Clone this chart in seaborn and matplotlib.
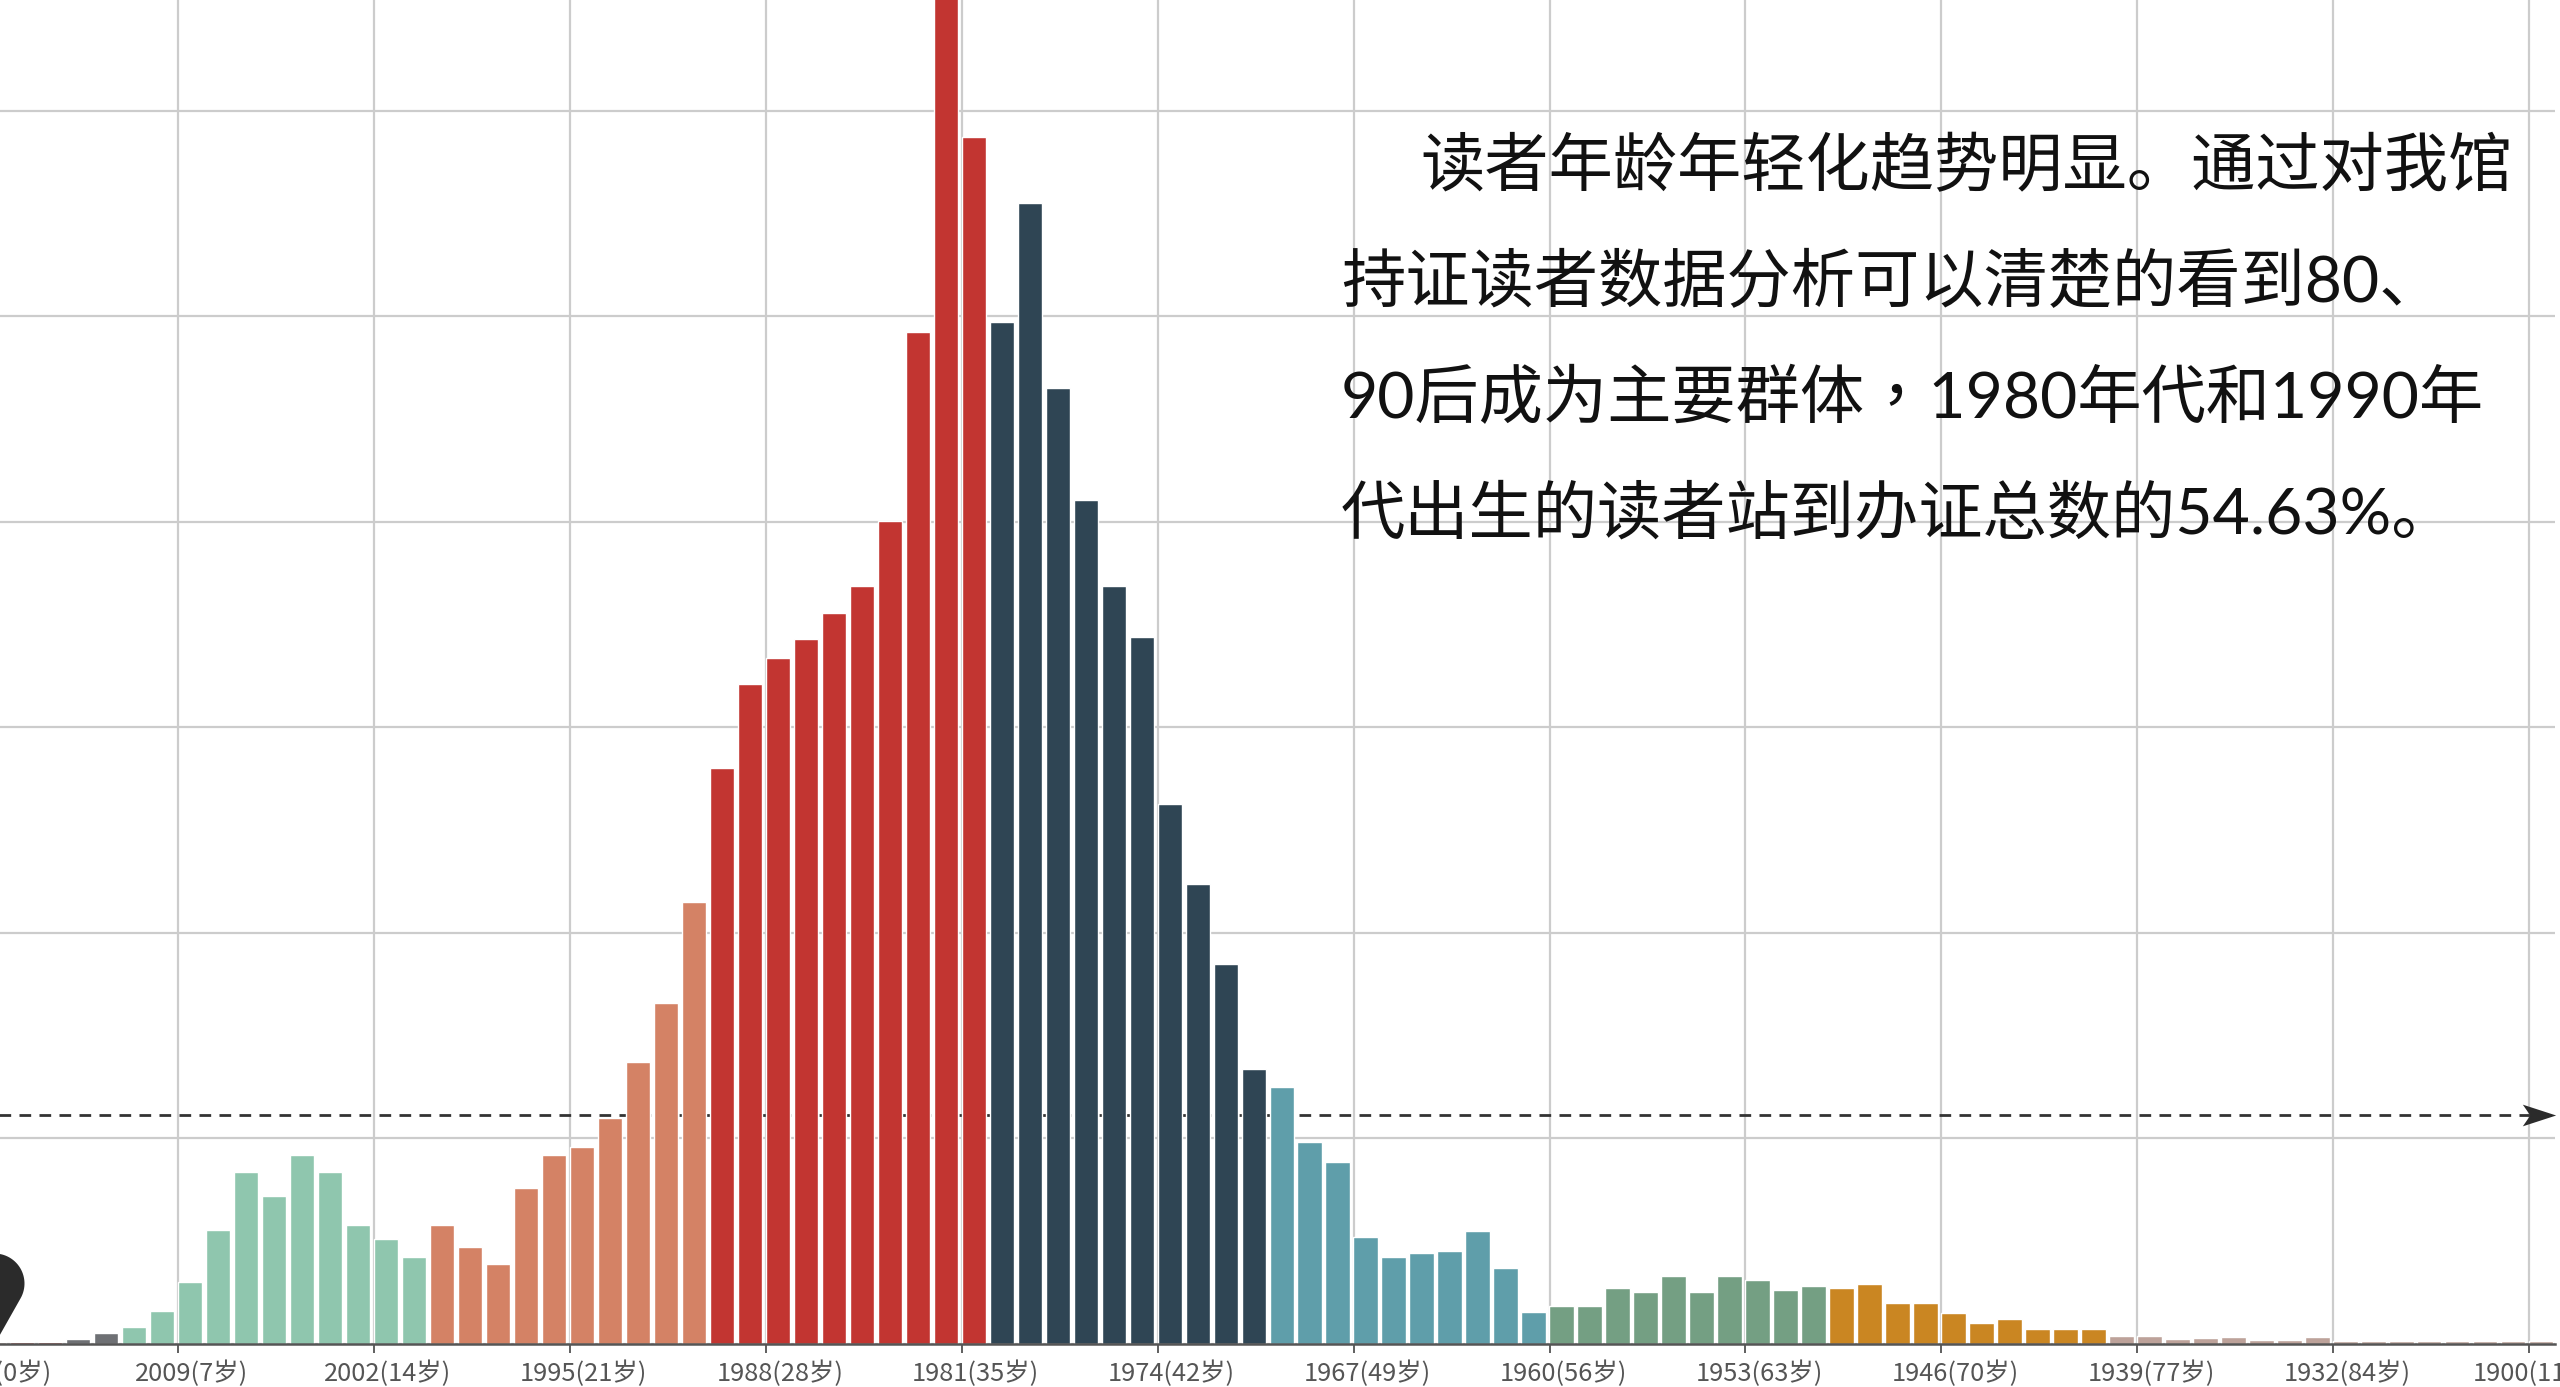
import numpy as np
import pandas as pd
import seaborn as sns
import matplotlib
matplotlib.use("Agg")
import matplotlib.pyplot as plt
from matplotlib.path import Path

# ---- data ----
years = [2016, 2015, 2014, 2013, 2012, 2011, 2010, 2009, 2008, 2007, 2006, 2005, 2004, 2003, 2002, 2001,
         2000, 1999, 1998, 1997, 1996, 1995, 1994, 1993, 1992, 1991,
         1990, 1989, 1988, 1987, 1986, 1985, 1984, 1983, 1982, 1981,
         1980, 1979, 1978, 1977, 1976, 1975, 1974, 1973, 1972, 1971,
         1970, 1969, 1968, 1967, 1966, 1965, 1964, 1963, 1962, 1961,
         1960, 1959, 1958, 1957, 1956, 1955, 1954, 1953, 1952, 1951,
         1950, 1949, 1948, 1947, 1946, 1945, 1944, 1943, 1942, 1941,
         1940, 1939, 1938, 1937, 1936, 1935, 1934, 1933, 1932, 1931,
         1930, 1929, 1928, 1927, 1926, 1900]
readers = [10, 10, 12, 24, 52, 83, 161, 302, 555, 837, 720, 920, 837, 579, 511, 423,
           579, 472, 389, 759, 920, 959, 1100, 1372, 1659, 2151,
           2803, 3212, 3338, 3431, 3557, 3688, 4005, 4925, 6812, 5873,
           4973, 5552, 4652, 4107, 3688, 3440, 2628, 2238, 1849, 1338,
           1251, 983, 886, 521, 423, 443, 453, 550, 370, 156,
           185, 185, 272, 253, 331, 253, 331, 311, 263, 282,
           272, 292, 200, 200, 151, 102, 122, 73, 73, 73,
           39, 39, 24, 29, 34, 19, 19, 34, 15, 15,
           15, 15, 15, 15, 15, 15]
groups = (["老"] * 1 + ["红"] * 2 + ["灰"] * 2 + ["10后"] * 11 + ["00后"] * 10 + ["红"] * 10 + ["70后"] * 10 +
          ["60后"] * 10 + ["50后"] * 10 + ["40后"] * 10 + ["老"] * 16)
group_colors = {"10后": "#8fc6ae", "00后": "#d48265", "红": "#c23531", "70后": "#2f4554", "60后": "#5f9eaa",
                "50后": "#749f83", "40后": "#ca8622", "老": "#bda29a", "灰": "#6e7074"}
ages = [2016 - y for y in years]
mean_readers = 1114
text_lines = ["读者年龄年轻化趋势明显。通过对我馆",
              "持证读者数据分析可以清楚的看到80、",
              "90后成为主要群体，1980年代和1990年",
              "代出生的读者站到办证总数的54.63%。"]
text_fonts = ["Noto Sans CJK SC", "Noto Sans CJK SC", "Noto Sans CJK TC", "Noto Sans CJK SC"]

# ---- figure ----
sns.set_theme(style="white")
plt.rcParams["font.family"] = ["Noto Sans CJK SC", "DejaVu Sans"]
W, H = 2560, 1387
fig = plt.figure(figsize=(W / 100, H / 100), dpi=100, facecolor="white")
ax = fig.add_axes([-40 / W, 43 / H, 2595 / W, 1344 / H])

df = pd.DataFrame({"year": [str(y) for y in years], "readers": readers, "group": groups})
sns.barplot(data=df, x="year", y="readers", hue="group", palette=group_colors, dodge=False,
            order=df["year"], width=0.87, saturation=1, legend=False, ax=ax, zorder=3)

# bars sit about 2 px to the left of the middle of their tick interval
offset = 0.07
ax.set_xlim(-1.288 + offset, 91.42 + offset)
ax.set_ylim(0, 6540)
ax.set_xlabel("")
ax.set_ylabel("")

idx = np.arange(len(years))
ax.set_xticks(idx[::7] - 0.5 + offset)
ax.set_xticklabels([])
ax.set_xticks(idx[::7] + offset, [f"{years[i]}({ages[i]}岁)" for i in idx[::7]], minor=True)
ax.set_yticks(np.arange(0, 7000, 1000))
ax.set_yticklabels([])
ax.tick_params(axis="x", which="major", length=6.5, width=1.2, color="#444444", bottom=True)
ax.tick_params(axis="x", which="minor", length=0, pad=12, labelsize=18.3, labelcolor="#555555")
ax.tick_params(axis="y", length=0)
ax.grid(True, which="major", color="#cccccc", lw=1.6, zorder=0)
ax.set_axisbelow(True)
for s in ("top", "left", "right"):
    ax.spines[s].set_visible(False)
ax.spines["bottom"].set_color("#555555")
ax.spines["bottom"].set_linewidth(1.8)
ax.spines["bottom"].set_zorder(4)

# average line with arrow head
ax.axhline(mean_readers, color="#333333", lw=2.0, dashes=(4.2, 3.0), zorder=2)
arrow = Path([(-1, 0.65), (1, 0), (-1, -0.65), (-0.55, 0), (-1, 0.65)], closed=True)
ax.plot([90.92], [mean_readers], marker=arrow, ms=24, color="#2b2b2b", mew=0, clip_on=False, zorder=5)

# pin marker at the first category
theta = np.linspace(np.deg2rad(-30), np.deg2rad(210), 60)
pin = list(zip(30 * np.cos(theta), 61 + 30 * np.sin(theta))) + [(0, 0)]
ax.plot([0], [0], marker=Path(pin + [pin[0]], closed=True), ms=131, color="#2b2b2b", mew=0,
        clip_on=False, zorder=6)

# annotation text
xs = [1420, 1341, 1341, 1341]
ys = [167, 283, 399, 515]
for line, x, y, font in zip(text_lines, xs, ys, text_fonts):
    fig.text(x / W, 1 - y / H, line, fontsize=46.3, color="#111111", ha="left", va="center",
             family=["Lato", font])

fig.savefig("out.png", dpi=100)
